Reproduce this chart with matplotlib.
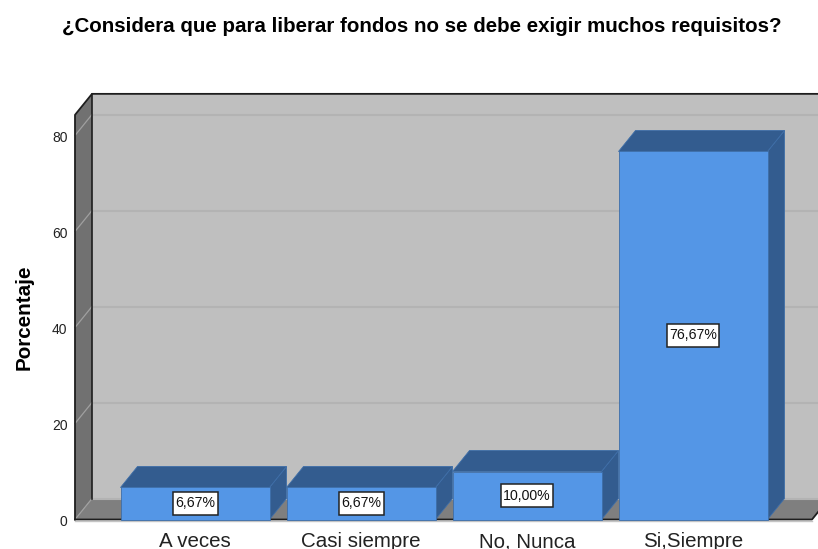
import matplotlib
matplotlib.use("Agg")
import matplotlib.pyplot as plt
from matplotlib.patches import Polygon, Rectangle

plt.rcParams['font.family'] = ['Liberation Sans', 'DejaVu Sans']

categories = ["A veces", "Casi siempre", "No, Nunca", "Si,Siempre"]
values = [6.67, 6.67, 10.00, 76.67]
value_labels = ["6,67%", "6,67%", "10,00%", "76,67%"]
y_ticks = [0, 20, 40, 60, 80]
title = "¿Considera que para liberar fondos no se debe exigir muchos requisitos?"
y_label = "Porcentaje"

W, H = 818, 549
PX_Y = 4.8      # px per percent
PX_X = 166.0    # px per category
X0_PX, Y0_PX = 195.0, 519.5
DX = 17 / PX_X  # depth in data units
DY = 21 / PX_Y
BAR_W = 149.0 / PX_X

fig = plt.figure(figsize=(W / 100, H / 100), dpi=100)
ax = fig.add_axes([0, 0, 1, 1])
ax.set_xlim(-X0_PX / PX_X, (W - X0_PX) / PX_X)
ax.set_ylim(-(H - Y0_PX) / PX_Y, Y0_PX / PX_Y)
ax.axis("off")

left = (75 - X0_PX) / PX_X
right = (812 - X0_PX) / PX_X
top = 84.3
ink = "#1e1e1e"

def poly(pts, fc, ec="none", lw=0.0, z=1):
    ax.add_patch(Polygon(pts, closed=True, facecolor=fc, edgecolor=ec, linewidth=lw, zorder=z))

# walls
poly([(left + DX, DY), (right + DX, DY), (right + DX, top + DY), (left + DX, top + DY)], "#bfbfbf")
poly([(left, 0), (left + DX, DY), (left + DX, top + DY), (left, top)], "#717171")
poly([(left, 0), (right, 0), (right + DX, DY), (left + DX, DY)], "#7f7f7f")

# gridlines
for t in y_ticks:
    ax.plot([left, left + DX], [t, t + DY], color="#a0a0a0", lw=0.9, zorder=2)
    ax.plot([left + DX, right + DX], [t + DY, t + DY], color="#b3b3b3", lw=1.5, zorder=2)
    ax.text(left - 0.045, t - 0.5, str(t), ha="right", va="center", fontsize=10, color="#222222", zorder=6)

# frame lines
ax.plot([left, left, left + DX, right + DX], [0, top, top + DY, top + DY], color=ink, lw=1.3, zorder=3)
ax.plot([left + DX, left + DX], [DY, top + DY], color=ink, lw=1.2, zorder=3)
ax.plot([left, right, right + DX], [0, 0, DY], color=ink, lw=1.3, zorder=3)
ax.plot([left, right], [-0.3, -0.3], color="#c4c4c4", lw=1.0, zorder=3)

# bars
front = "#5496e6"
dark = "#335c8f"
edge = "#3e6ea8"
fig.canvas.draw()
renderer = fig.canvas.get_renderer()
for i, (v, lab, name) in enumerate(zip(values, value_labels, categories)):
    x0, x1 = i - BAR_W / 2, i + BAR_W / 2
    z = 4 + i * 0.01
    poly([(x1, 0), (x1 + DX, DY), (x1 + DX, v + DY), (x1, v)], dark, edge, 0.6, z)
    poly([(x0, v), (x1, v), (x1 + DX, v + DY), (x0 + DX, v + DY)], dark, edge, 0.6, z)
    poly([(x0, 0), (x1, 0), (x1, v), (x0, v)], front, edge, 0.6, z)
    t = ax.text(i, v / 2, lab, ha="center", va="center", fontsize=10.2, color="#111111", zorder=8)
    tw = t.get_window_extent(renderer).width
    bw, bh = (tw + 5) / PX_X, 23 / PX_Y
    ax.add_patch(Rectangle((i - bw / 2, v / 2 - bh / 2), bw, bh, facecolor="white",
                           edgecolor="#222222", linewidth=1.1, zorder=7))
    ax.text(i, (Y0_PX - 547) / PX_Y, name, ha="center", va="baseline", fontsize=14.8, color="#222222", zorder=6)

ax.text((422 - X0_PX) / PX_X, (Y0_PX - 26.5) / PX_Y, title, ha="center", va="center",
        fontsize=14.8, fontweight="bold", color="black")
ax.text((24.5 - X0_PX) / PX_X, (Y0_PX - 317) / PX_Y, y_label, ha="center", va="center",
        rotation=90, fontsize=14.9, fontweight="bold", color="black")

fig.savefig("out.png", dpi=100)
